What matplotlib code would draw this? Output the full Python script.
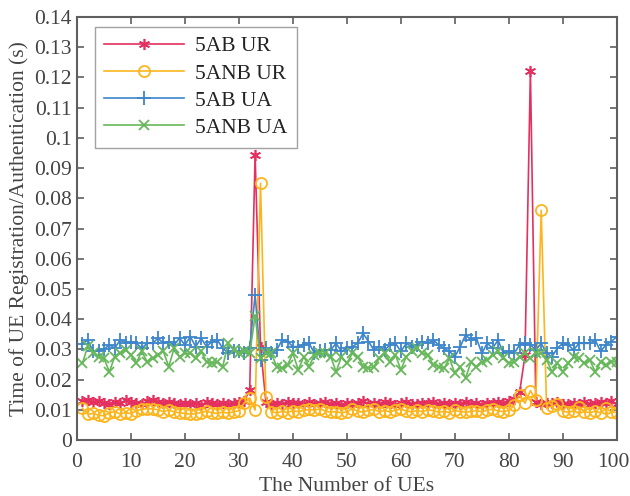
import numpy as np
import matplotlib
matplotlib.use("Agg")
import matplotlib.pyplot as plt
import matplotlib.transforms as mtransforms

x = list(range(1, 101))

ab_ur = [0.0128,0.0132,0.0125,0.0130,0.0121,0.0118,0.0126,0.0122,0.0131,0.0127,
         0.0124,0.0119,0.0128,0.0133,0.0126,0.0121,0.0125,0.0122,0.0118,0.0124,
         0.0120,0.0123,0.0117,0.0125,0.0121,0.0119,0.0124,0.0118,0.0122,0.0126,
         0.0129,0.0166,0.0944,0.0308,0.0125,0.0118,0.0122,0.0119,0.0125,0.0121,
         0.0123,0.0119,0.0126,0.0120,0.0124,0.0127,0.0118,0.0121,0.0117,0.0122,
         0.0119,0.0124,0.0129,0.0120,0.0123,0.0118,0.0125,0.0121,0.0117,0.0122,
         0.0126,0.0120,0.0118,0.0124,0.0121,0.0127,0.0119,0.0122,0.0118,0.0123,
         0.0120,0.0125,0.0119,0.0122,0.0117,0.0124,0.0121,0.0126,0.0123,0.0128,
         0.0135,0.0158,0.0280,0.1222,0.0125,0.0119,0.0124,0.0121,0.0127,0.0120,
         0.0118,0.0123,0.0120,0.0125,0.0119,0.0122,0.0126,0.0121,0.0128,0.0120]

anb_ur = [0.0105,0.0085,0.0088,0.0082,0.0080,0.0090,0.0094,0.0086,0.0091,0.0087,
          0.0097,0.0101,0.0104,0.0103,0.0100,0.0094,0.0099,0.0093,0.0090,0.0088,
          0.0086,0.0087,0.0091,0.0095,0.0090,0.0088,0.0092,0.0089,0.0093,0.0097,
          0.0123,0.0139,0.0099,0.0850,0.0143,0.0093,0.0090,0.0095,0.0091,0.0097,
          0.0094,0.0098,0.0101,0.0099,0.0103,0.0096,0.0092,0.0094,0.0090,0.0093,
          0.0104,0.0095,0.0092,0.0098,0.0101,0.0094,0.0097,0.0093,0.0099,0.0102,
          0.0096,0.0093,0.0098,0.0094,0.0100,0.0097,0.0092,0.0095,0.0091,0.0098,
          0.0094,0.0092,0.0095,0.0097,0.0093,0.0099,0.0102,0.0096,0.0094,0.0098,
          0.0115,0.0148,0.0122,0.0163,0.0132,0.0760,0.0106,0.0112,0.0118,0.0095,
          0.0092,0.0096,0.0110,0.0093,0.0091,0.0095,0.0090,0.0105,0.0093,0.0091]

ab_ua = [0.0318,0.0331,0.0293,0.0296,0.0300,0.0315,0.0304,0.0331,0.0320,0.0326,
         0.0320,0.0304,0.0320,0.0320,0.0337,0.0320,0.0326,0.0315,0.0337,0.0315,
         0.0342,0.0309,0.0337,0.0309,0.0326,0.0331,0.0304,0.0287,0.0293,0.0293,
         0.0287,0.0304,0.0480,0.0265,0.0304,0.0287,0.0298,0.0331,0.0326,0.0309,
         0.0309,0.0315,0.0320,0.0287,0.0293,0.0298,0.0298,0.0320,0.0293,0.0304,
         0.0309,0.0320,0.0353,0.0326,0.0298,0.0309,0.0298,0.0315,0.0320,0.0293,
         0.0320,0.0309,0.0315,0.0326,0.0320,0.0331,0.0315,0.0304,0.0293,0.0276,
         0.0309,0.0348,0.0331,0.0337,0.0287,0.0320,0.0304,0.0331,0.0287,0.0293,
         0.0287,0.0315,0.0320,0.0315,0.0298,0.0320,0.0287,0.0276,0.0304,0.0320,
         0.0315,0.0298,0.0320,0.0320,0.0320,0.0331,0.0293,0.0315,0.0326,0.0342]

anb_ua = [0.0254,0.0310,0.0287,0.0276,0.0270,0.0226,0.0276,0.0287,0.0298,0.0282,
          0.0256,0.0293,0.0259,0.0270,0.0282,0.0293,0.0243,0.0304,0.0276,0.0287,
          0.0287,0.0270,0.0293,0.0259,0.0254,0.0259,0.0243,0.0320,0.0298,0.0287,
          0.0293,0.0287,0.0410,0.0270,0.0287,0.0287,0.0243,0.0237,0.0248,0.0287,
          0.0232,0.0276,0.0243,0.0282,0.0287,0.0287,0.0276,0.0226,0.0276,0.0254,
          0.0287,0.0276,0.0243,0.0237,0.0243,0.0270,0.0287,0.0259,0.0282,0.0232,
          0.0276,0.0293,0.0304,0.0287,0.0282,0.0248,0.0243,0.0237,0.0270,0.0221,
          0.0243,0.0205,0.0259,0.0243,0.0259,0.0265,0.0282,0.0293,0.0270,0.0254,
          0.0259,0.0276,0.0287,0.0270,0.0287,0.0287,0.0265,0.0226,0.0254,0.0226,
          0.0254,0.0276,0.0270,0.0254,0.0265,0.0226,0.0259,0.0248,0.0259,0.0259]

labels = ["5AB UR", "5ANB UR", "5AB UA", "5ANB UA"]
colors = ["#E4305F", "#FDB51E", "#3D86CB", "#67B85A"]
xticks = [0, 10, 20, 30, 40, 50, 60, 70, 80, 90, 100]
yticks = [0, 0.01, 0.02, 0.03, 0.04, 0.05, 0.06, 0.07, 0.08, 0.09, 0.1, 0.11, 0.12, 0.13, 0.14]
ytick_labels = ["0", "0.01", "0.02", "0.03", "0.04", "0.05", "0.06", "0.07", "0.08", "0.09",
                "0.1", "0.11", "0.12", "0.13", "0.14"]

plt.rcParams['font.family'] = ['Liberation Serif', 'DejaVu Serif']
fs = 15.5
axc = '#5f5f5f'

fig = plt.figure(figsize=(6.3, 4.96), dpi=100)
ax = fig.add_axes([0.1222, 0.1129, 0.8568, 0.8528])

ax.plot(x, ab_ur, color=colors[0], lw=1.2, marker=(6, 2, 0), ms=8, mew=1.2, label=labels[0])
ax.plot(x, anb_ur, color=colors[1], lw=1.2, marker='o', ms=8, mfc='none', mew=1.3, label=labels[1])
ax.plot(x, ab_ua, color=colors[2], lw=1.2, marker='+', ms=10, mew=1.3, label=labels[2])
ax.plot(x, anb_ua, color=colors[3], lw=1.2, marker='x', ms=7, mew=1.3, label=labels[3])

ax.set_xlim(0, 100)
ax.set_ylim(0, 0.14)
ax.set_xticks(xticks)
ax.set_yticks(yticks)
ax.set_yticklabels(ytick_labels)
ax.tick_params(direction='in', top=True, right=True, length=5, width=1.2,
               colors=axc, labelsize=fs, labelcolor='#444444')
ax.tick_params(axis='x', pad=9)
for s in ax.spines.values():
    s.set_color(axc)
    s.set_linewidth(1.5)

# nudge the last x tick label slightly left so it stays inside the canvas
fig.canvas.draw()
xlabs = ax.get_xticklabels()
xlabs[-1].set_transform(xlabs[-1].get_transform() +
                        mtransforms.ScaledTranslation(-3 / 100, 0, fig.dpi_scale_trans))

ax.set_xlabel("The Number of UEs", fontsize=fs, color='#444444', labelpad=4)
ax.set_ylabel("Time of UE Registration/Authentication (s)", fontsize=fs, color='#444444', labelpad=4)

leg = ax.legend(loc='upper left', bbox_to_anchor=(0.033, 0.977), fontsize=fs, frameon=True,
                fancybox=False, edgecolor='#8a8a8a', handlelength=3.7, handletextpad=0.5,
                labelspacing=0.33, borderpad=0.45, borderaxespad=0)
leg.get_frame().set_linewidth(1.0)
for t in leg.get_texts():
    t.set_color('#222222')

fig.savefig("out.png", dpi=100)
